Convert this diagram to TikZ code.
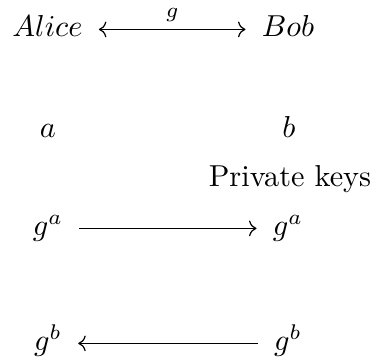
\documentclass[tikz,border=0pt]{standalone}
\usepackage{amsmath,amssymb}
\usetikzlibrary{arrows.meta}

\begin{document}
\begin{tikzpicture}[x=0.33pt,y=-0.33pt,>={Computer Modern Rightarrow},
    lbl/.style={anchor=base,inner sep=0pt},
    link/.style={shorten <=5.2pt,shorten >=5.2pt}]
  \useasboundingbox (0,0) rectangle (376,363);
  % parties
  \node[lbl] (alice) at (47.5,37) {$Alice$};
  \node[lbl] (bob) at (288,37) {$Bob$};
  % private keys
  \node[lbl] (keya) at (48,138) {$a$};
  \node[lbl] (keyb) at (289,138) {$b$};
  \node[lbl] (keys) at (290,187) {Private keys};
  % public values
  \node[lbl] (puba) at (48,236) {$g^a$};
  \node[lbl] (pubaa) at (288,236) {$g^a$};
  \node[lbl] (pubb) at (48,351) {$g^b$};
  \node[lbl] (pubbb) at (288,351) {$g^b$};
  % arrows
  \draw[<->,link] ([yshift=2.5pt]alice.base east) -- ([yshift=2.5pt]bob.base west)
    node[midway,above=0pt,inner sep=2.5pt]{$\scriptstyle g$};
  \draw[->,link] ([yshift=2.5pt]puba.base east) -- ([yshift=2.5pt]pubaa.base west);
  \draw[<-,link] ([yshift=2.5pt]pubb.base east) -- ([yshift=2.5pt]pubbb.base west);
\end{tikzpicture}
\end{document}
